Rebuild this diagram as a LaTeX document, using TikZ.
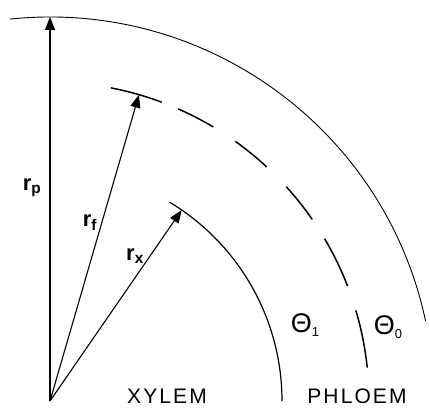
\documentclass[tikz,border=0pt]{standalone}
\usepackage{fontspec}
\setmainfont{Liberation Sans}
\newfontfamily\spacedfont[LetterSpace=10]{Liberation Sans}
\usetikzlibrary{arrows.meta}

\newcommand{\thsub}[1]{\raisebox{-4pt}{\fontsize{13}{13}\selectfont #1}}

\begin{document}
\begin{tikzpicture}[
	x=1pt, y=1pt,
	radarrow/.style={line width=1.1pt, -{Triangle[length=13pt,width=10pt]}},
	outerline/.style={line width=0.9pt},
	xylemline/.style={line width=1.2pt},
	dashline/.style={line width=1.5pt},
	rlabel/.style={font=\fontsize{22}{22}\selectfont\bfseries},
	thlabel/.style={font=\fontsize{27}{27}\selectfont},
	tissue/.style={font=\fontsize{21}{21}\selectfont\spacedfont}
	]
	\useasboundingbox (0,0) rectangle (430,407);
	
	% Centre and radii tips
	\coordinate (O) at (50,6);
	\coordinate (tipp) at ([shift={(O)}]90:384);
	\coordinate (tipf) at ([shift={(O)}]73.8:319);
	\coordinate (tipx) at ([shift={(O)}]55.4:232);
	
	% Outer boundary (r_p)
	\draw[outerline] ([shift={(O)}]96:384) arc[start angle=96, end angle=12, radius=384];
	
	% Cambium (r_f), dashed
	\foreach \a/\b in {79/69.5, 66.3/59.2, 54.5/47.2, 42.2/34.7, 30.6/21.1, 16.5/6}
		\draw[dashline] ([shift={(O)}]\a:319) arc[start angle=\a, end angle=\b, radius=319];
	
	% Xylem boundary (r_x)
	\draw[xylemline] ([shift={(O)}]59:232) arc[start angle=59, end angle=0, radius=232];
	
	% Radii
	\draw[radarrow] (O) -- (tipp);
	\draw[radarrow] (O) -- (tipf);
	\draw[radarrow] (O) -- (tipx);
	
	% Labels
	\node[rlabel] (rp) at (32,219) {r\textsubscript{p}};
	\node[rlabel] (rf) at (90,184) {r\textsubscript{f}};
	\node[rlabel] (rx) at (135,151) {r\textsubscript{x}};
	\node[thlabel] (th1) at (305,82) {Θ\thsub{1}};
	\node[thlabel] (th0) at (388,80) {Θ\thsub{0}};
	\node[tissue] (xylem) at (167,11) {XYLEM};
	\node[tissue] (phloem) at (357,11) {PHLOEM};
\end{tikzpicture}
\end{document}
